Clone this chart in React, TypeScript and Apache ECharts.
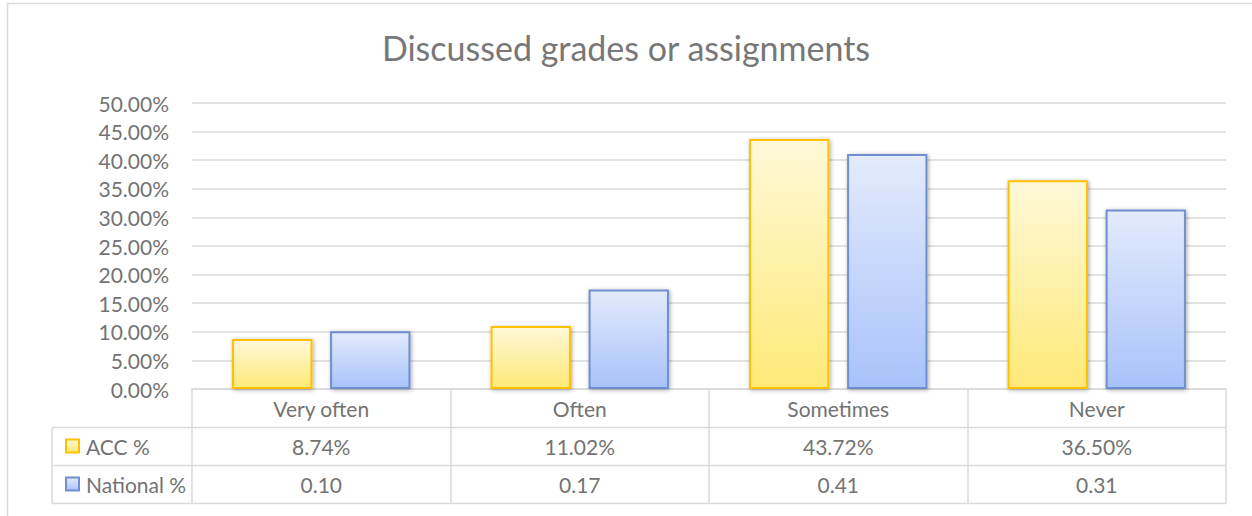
import React, { useEffect, useRef } from "react";
import * as echarts from "echarts";

const categories = ["Very often", "Often", "Sometimes", "Never"];
const accValues = [0.0874, 0.1102, 0.4372, 0.365];
const nationalValues = [0.101, 0.174, 0.411, 0.314];
const seriesNames = ["ACC %", "National %"];
const yMin = 0;
const yMax = 0.5;
const yInterval = 0.05;

const W = 1252;
const H = 516;
const GRID_LEFT = 192;
const GRID_RIGHT = 26;
const GRID_TOP = 103;
const GRID_BOTTOM = 127;
const ROW_H = 38;
const TABLE_LEFT = 52;
const LINE = "#d9d9d9";
const TEXT = "#737373";
const FONT = "Lato, 'Open Sans', sans-serif";
const FS = 21;

export default function App() {
  const ref = useRef<HTMLDivElement>(null);
  useEffect(() => {
    document.body.style.margin = "0";
    const chart = echarts.init(ref.current!, undefined, { renderer: "svg" });
    const axisY = H - GRID_BOTTOM;
    const right = W - GRID_RIGHT;
    const rowLines = [1, 2, 3].map((i) => axisY + i * ROW_H + 0.5);
    const fmtPct = (v: number) => (v * 100).toFixed(2) + "%";
    const fmtDec = (v: number) => v.toFixed(2);

    const labelAxis = (data: string[], offset: number) => ({
      type: "category",
      data,
      position: "bottom",
      offset,
      axisLine: { show: false },
      axisTick: { show: false },
      axisLabel: {
        margin: 19,
        verticalAlign: "middle",
        color: TEXT,
        fontSize: FS,
        fontFamily: FONT,
      },
    });

    chart.setOption({
      animation: false,
      backgroundColor: "#ffffff",
      title: {
        text: "Discussed grades or assignments",
        left: "center",
        top: 25,
        textStyle: { fontSize: 34, fontWeight: "normal", fontFamily: FONT, color: "#777777" },
      },
      legend: {
        data: seriesNames,
        orient: "vertical",
        left: 60,
        top: axisY + ROW_H + 3,
        itemWidth: 13,
        itemHeight: 13,
        itemGap: 16,
        icon: "rect",
        textStyle: { fontSize: FS, lineHeight: 22, fontFamily: FONT, color: TEXT, padding: [0, 0, 0, 2] },
      },
      grid: { left: GRID_LEFT, right: GRID_RIGHT, top: GRID_TOP, bottom: GRID_BOTTOM, containLabel: false },
      xAxis: [
        {
          type: "category",
          data: categories,
          axisLine: { show: true, lineStyle: { color: LINE, width: 1.5 } },
          axisTick: { show: true, interval: 0, length: ROW_H * 3 + 1, lineStyle: { color: LINE, width: 1.5 } },
          axisLabel: {
            margin: 19,
            verticalAlign: "middle",
            color: TEXT,
            fontSize: FS,
            fontFamily: FONT,
          },
        },
        labelAxis(accValues.map(fmtPct), ROW_H),
        labelAxis(nationalValues.map(fmtDec), ROW_H * 2),
      ],
      yAxis: {
        type: "value",
        min: yMin,
        max: yMax,
        interval: yInterval,
        axisLine: { show: false },
        axisTick: { show: false },
        splitLine: { lineStyle: { color: LINE, width: 1.5 } },
        axisLabel: {
          margin: 23,
          color: TEXT,
          fontSize: FS,
          fontFamily: FONT,
          formatter: (v: number) => (v * 100).toFixed(2) + "%",
        },
      },
      series: [
        {
          name: seriesNames[0],
          type: "bar",
          xAxisIndex: 0,
          data: accValues,
          barGap: "22%",
          barCategoryGap: "31%",
          itemStyle: {
            color: new echarts.graphic.LinearGradient(0, 0, 0, 1, [
              { offset: 0, color: "#fff8d8" },
              { offset: 1, color: "#ffe978" },
            ]),
            borderColor: "#ffc000",
            borderWidth: 2,
            shadowColor: "rgba(0,0,0,0.35)",
            shadowBlur: 4,
            shadowOffsetX: 1,
            shadowOffsetY: 1,
          },
        },
        {
          name: seriesNames[1],
          type: "bar",
          xAxisIndex: 0,
          data: nationalValues,
          itemStyle: {
            color: new echarts.graphic.LinearGradient(0, 0, 0, 1, [
              { offset: 0, color: "#e3ebfc" },
              { offset: 1, color: "#a8c2fa" },
            ]),
            borderColor: "#6f8fd0",
            borderWidth: 2,
            shadowColor: "rgba(0,0,0,0.35)",
            shadowBlur: 4,
            shadowOffsetX: 1,
            shadowOffsetY: 1,
          },
        },
      ],
      graphic: [
        {
          type: "rect",
          silent: true,
          shape: { x: 7.5, y: 3.5, width: W + 50, height: H + 50 },
          style: { fill: "none", stroke: LINE, lineWidth: 1.5 },
        },
        ...rowLines.map((y) => ({
          type: "line",
          silent: true,
          shape: { x1: TABLE_LEFT, y1: y, x2: right, y2: y },
          style: { stroke: LINE, lineWidth: 1.5 },
        })),
        {
          type: "line",
          silent: true,
          shape: { x1: TABLE_LEFT, y1: rowLines[0], x2: TABLE_LEFT, y2: rowLines[2] },
          style: { stroke: LINE, lineWidth: 1.5 },
        },
      ],
    });
    return () => chart.dispose();
  }, []);
  return <div ref={ref} style={{ width: W, height: H }} />;
}
